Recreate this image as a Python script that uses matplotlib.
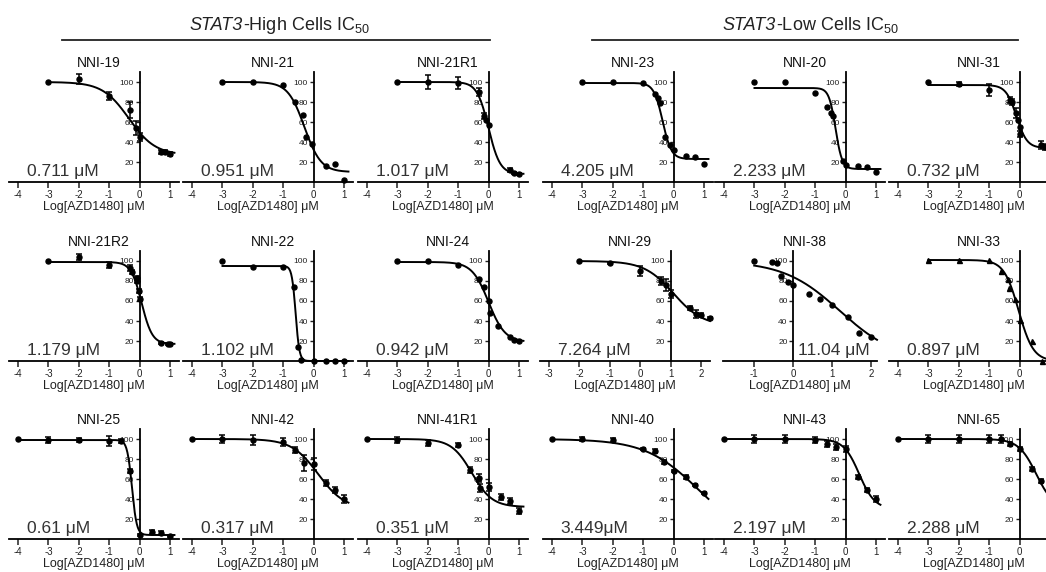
import numpy as np
import matplotlib
matplotlib.use('Agg')
import matplotlib.pyplot as plt
from matplotlib.lines import Line2D

plt.rcParams['font.family'] = ['Liberation Sans', 'DejaVu Sans']
plt.rcParams['mathtext.fontset'] = 'custom'
plt.rcParams['mathtext.rm'] = 'Liberation Sans'
plt.rcParams['mathtext.it'] = 'Liberation Sans:italic'

# cell lines in reading order (3 rows x 6 columns)
cell_lines = ['NNI-19', 'NNI-21', 'NNI-21R1', 'NNI-23', 'NNI-20', 'NNI-31',
              'NNI-21R2', 'NNI-22', 'NNI-24', 'NNI-29', 'NNI-38', 'NNI-33',
              'NNI-25', 'NNI-42', 'NNI-41R1', 'NNI-40', 'NNI-43', 'NNI-65']
ic50_text = ['0.711 μM', '0.951 μM', '1.017 μM', '4.205 μM', '2.233 μM', '0.732 μM',
             '1.179 μM', '1.102 μM', '0.942 μM', '7.264 μM', '11.04 μM', '0.897 μM',
             '0.61 μM', '0.317 μM', '0.351 μM', '3.449μM', '2.197 μM', '2.288 μM']

# log dose (uM), % viability, error bar
x_nni19 = [-3, -2, -1, -0.3, -0.12, 0, 0.7, 0.85, 1.0]
y_nni19 = [100, 103, 86, 72, 54, 45, 30, 30, 28]
e_nni19 = [0, 5, 4, 8, 7, 4, 2, 2, 2]

x_nni21 = [-3, -2, -1, -0.6, -0.35, -0.25, -0.05, 0.4, 0.7, 1.0]
y_nni21 = [100, 100, 97, 80, 67, 45, 38, 16, 18, 2]
e_nni21 = [0, 0, 0, 0, 0, 0, 0, 0, 0, 0]

x_nni21r1 = [-3, -2, -1, -0.3, -0.15, -0.08, 0, 0.72, 0.85, 1.0]
y_nni21r1 = [100, 100, 99, 90, 66, 62, 57, 12, 9, 8]
e_nni21r1 = [0, 7, 6, 4, 3, 0, 0, 2, 1, 1]

x_nni23 = [-3, -2, -1, -0.6, -0.52, -0.43, -0.27, -0.1, 0, 0.4, 0.7, 1.0]
y_nni23 = [100, 100, 99, 88, 84, 79, 45, 37, 32, 26, 25, 18]
e_nni23 = [0, 0, 0, 0, 0, 0, 0, 0, 0, 0, 0, 0]

x_nni20 = [-3, -2, -1, -0.6, -0.47, -0.4, -0.08, 0, 0.4, 0.7, 1.0]
y_nni20 = [100, 100, 89, 75, 69, 66, 21, 17, 16, 15, 10]
e_nni20 = [0, 0, 0, 0, 0, 0, 0, 0, 0, 0, 0]

x_nni31 = [-3, -2, -1, -0.3, -0.25, -0.1, -0.05, 0, 0.03, 0.7, 0.85]
y_nni31 = [100, 98, 92, 82, 80, 69, 62, 55, 48, 37, 35]
e_nni31 = [0, 2, 6, 3, 3, 5, 0, 0, 3, 4, 3]

x_nni21r2 = [-3, -2, -1, -0.3, -0.25, -0.1, -0.08, -0.03, 0, 0.7, 0.95, 1.0]
y_nni21r2 = [100, 104, 96, 93, 89, 83, 80, 70, 62, 18, 17, 17]
e_nni21r2 = [0, 3, 3, 3, 2, 2, 2, 2, 2, 1, 1, 1]

x_nni22 = [-3, -2, -1, -0.65, -0.52, -0.4, 0, 0.4, 0.7, 1.0]
y_nni22 = [100, 94, 94, 74, 14, 1, 0, 0, 0, 0]
e_nni22 = [0, 0, 0, 0, 0, 0, 0, 0, 0, 0]

x_nni24 = [-3, -2, -1, -0.3, -0.14, 0, 0.05, 0.3, 0.7, 0.85, 1.0]
y_nni24 = [100, 100, 96, 82, 74, 60, 48, 35, 24, 21, 20]
e_nni24 = [0, 0, 0, 0, 0, 0, 0, 0, 0, 0, 0]

x_nni29 = [-2, -1, 0, 0.7, 0.85, 1.0, 1.65, 1.85, 2.0, 2.3]
y_nni29 = [100, 98, 90, 80, 76, 67, 53, 47, 46, 43]
e_nni29 = [0, 1, 5, 4, 6, 4, 2, 4, 2, 1]

x_nni38 = [-1, -0.54, -0.41, -0.3, -0.12, 0, 0.4, 0.7, 1.0, 1.4, 1.7, 2.0]
y_nni38 = [100, 99, 98, 85, 79, 76, 67, 62, 56, 44, 28, 24]
e_nni38 = [0, 0, 0, 0, 0, 0, 0, 0, 0, 0, 0, 0]

x_nni33 = [-3, -2, -1, -0.6, -0.38, -0.35, -0.16, 0, 0.4, 0.75]
y_nni33 = [101, 101, 101, 90, 82, 73, 62, 41, 20, 0]
e_nni33 = [0, 0, 0, 0, 0, 0, 0, 0, 0, 0]

x_nni25 = [-4, -3, -2, -1, -0.6, -0.3, 0, 0.4, 0.7, 1.0]
y_nni25 = [100, 99, 99, 98, 98, 68, 4, 7, 6, 3]
e_nni25 = [0, 3, 2, 5, 2, 2, 1, 2, 2, 1]

x_nni42 = [-4, -3, -2, -1, -0.6, -0.3, 0, 0.4, 0.7, 1.0]
y_nni42 = [100, 100, 99, 97, 89, 76, 75, 56, 49, 40]
e_nni42 = [0, 4, 5, 4, 3, 8, 6, 3, 3, 4]

x_nni41r1 = [-4, -3, -2, -1, -0.6, -0.3, -0.28, 0, 0.4, 0.7, 1.0]
y_nni41r1 = [100, 99, 96, 94, 69, 61, 51, 52, 42, 38, 28]
e_nni41r1 = [0, 3, 3, 2, 3, 4, 4, 4, 3, 3, 3]

x_nni40 = [-4, -3, -2, -1, -0.6, -0.3, 0, 0.4, 0.7, 1.0]
y_nni40 = [100, 100, 99, 90, 88, 77, 68, 62, 54, 46]
e_nni40 = [0, 2, 2, 1, 2, 2, 1, 2, 1, 1]

x_nni43 = [-4, -3, -2, -1, -0.6, -0.3, 0, 0.4, 0.7, 1.0]
y_nni43 = [100, 100, 100, 99, 95, 92, 90, 62, 49, 40]
e_nni43 = [0, 4, 4, 3, 3, 3, 3, 2, 2, 3]

x_nni65 = [-4, -3, -2, -1, -0.6, -0.3, 0, 0.4, 0.7, 1.0]
y_nni65 = [100, 100, 100, 100, 100, 95, 90, 70, 58, 50]
e_nni65 = [0, 4, 4, 4, 4, 2, 2, 2, 2, 2]

# four-parameter logistic fits
fit_top = [100, 100, 100, 99, 94, 97,
           99, 95, 99, 100, 100, 101,
           99, 100, 100, 100, 100, 100]
fit_bottom = [27, 10, 8, 23, 13, 34,
              17, 0, 19, 35, 0, 0,
              4, 30, 32, 0, 30, 30]
fit_logc = [-0.35, -0.3, 0.0, -0.36, -0.33, -0.1,
            0.07, -0.59, 0.0, 1.1, 1.2, -0.03,
            -0.25, 0.15, -0.55, 0.8, 0.45, 0.55]
fit_hill = [1.0, 1.6, 2.3, 3.0, 4.0, 2.5,
            2.5, 7.0, 1.6, 0.9, 0.6, 1.8,
            5.5, 1.0, 1.3, 0.5, 1.7, 1.5]

xs_all = [x_nni19, x_nni21, x_nni21r1, x_nni23, x_nni20, x_nni31,
          x_nni21r2, x_nni22, x_nni24, x_nni29, x_nni38, x_nni33,
          x_nni25, x_nni42, x_nni41r1, x_nni40, x_nni43, x_nni65]
ys_all = [y_nni19, y_nni21, y_nni21r1, y_nni23, y_nni20, y_nni31,
          y_nni21r2, y_nni22, y_nni24, y_nni29, y_nni38, y_nni33,
          y_nni25, y_nni42, y_nni41r1, y_nni40, y_nni43, y_nni65]
es_all = [e_nni19, e_nni21, e_nni21r1, e_nni23, e_nni20, e_nni31,
          e_nni21r2, e_nni22, e_nni24, e_nni29, e_nni38, e_nni33,
          e_nni25, e_nni42, e_nni41r1, e_nni40, e_nni43, e_nni65]

# layout in pixels
W, H = 1046, 572
row_base = [182, 361, 539]
col_left = [9, 183, 358, 543, 715, 889]
special = {'NNI-29': dict(left=540, width=170, xlim=(-3.3, 2.3), cross=1),
           'NNI-38': dict(left=723, width=154, xlim=(-1.8, 2.15), cross=0)}

fig = plt.figure(figsize=(W / 100, H / 100), dpi=100)

for i, name in enumerate(cell_lines):
    r, c = i // 6, i % 6
    opts = dict(left=col_left[c], width=170, xlim=(-4.3, 1.3), cross=0)
    opts.update(special.get(name, {}))
    ax = fig.add_axes([opts['left'] / W, (H - row_base[r]) / H,
                       opts['width'] / W, 110 / H])
    ax.set_xlim(*opts['xlim'])
    ax.set_ylim(0, 110)

    x = np.array(xs_all[i], dtype=float)
    y = np.array(ys_all[i], dtype=float)
    e = np.array(es_all[i], dtype=float)
    marker = '^' if name == 'NNI-33' else 'o'

    # fitted curve
    xf = np.linspace(x[0], min(x[-1] + 0.15, opts['xlim'][1]), 300)
    yf = fit_bottom[i] + (fit_top[i] - fit_bottom[i]) / (1 + 10 ** ((xf - fit_logc[i]) * fit_hill[i]))
    ax.plot(xf, yf, color='k', lw=1.4, clip_on=False, zorder=3)
    ax.plot(x, y, marker, color='k', ms=3.6, clip_on=False, zorder=4)
    m = e > 0
    if m.any():
        ax.errorbar(x[m], y[m], yerr=e[m], fmt='none', ecolor='k', elinewidth=1.1,
                    capsize=2.2, capthick=1.1, clip_on=False, zorder=4)

    for s in ['top', 'right']:
        ax.spines[s].set_visible(False)
    ax.spines['left'].set_position(('data', opts['cross']))
    ax.spines['left'].set_linewidth(1.3)
    ax.spines['bottom'].set_linewidth(1.3)

    lo, hi = opts['xlim']
    ticks = np.arange(np.ceil(lo), np.floor(hi) + 1)
    ax.set_xticks(ticks)
    ax.set_xticklabels(['%d' % t for t in ticks])
    ax.set_yticks([20, 40, 60, 80, 100])
    ax.tick_params(axis='x', direction='out', length=4, width=1.1, labelsize=7,
                   pad=1.5, colors='#222')
    ax.tick_params(axis='y', direction='out', length=3, width=1.0, labelsize=6,
                   pad=1, colors='#222')
    ax.set_xlabel('Log[AZD1480] μM', fontsize=9, labelpad=1, color='#222')

    ax.text(0.53, 1 + 5 / 110, name, transform=ax.transAxes, ha='center',
            va='baseline', fontsize=10, color='#111')
    if name == 'NNI-38':
        ax.text(0.955, 6 / 110, ic50_text[i], transform=ax.transAxes, ha='right',
                va='baseline', fontsize=12.5, color='#333')
    else:
        ax.text(0.105, 6 / 110, ic50_text[i], transform=ax.transAxes, ha='left',
                va='baseline', fontsize=12.5, color='#333')

# group headers: italic gene name, then the rest
for split, rest in [(243, '-High Cells IC$_{50}$'), (776, '-Low Cells IC$_{50}$')]:
    fig.text(split / W, 1 - 30 / H, 'STAT3', style='italic', ha='right',
             va='baseline', fontsize=13, color='#222')
    fig.text(split / W, 1 - 30 / H, rest, ha='left',
             va='baseline', fontsize=13, color='#222')
fig.add_artist(Line2D([62 / W, 490 / W], [1 - 40 / H] * 2, color='#222', lw=1.3))
fig.add_artist(Line2D([592 / W, 1018 / W], [1 - 40 / H] * 2, color='#222', lw=1.3))

fig.savefig('out.png', dpi=100)
